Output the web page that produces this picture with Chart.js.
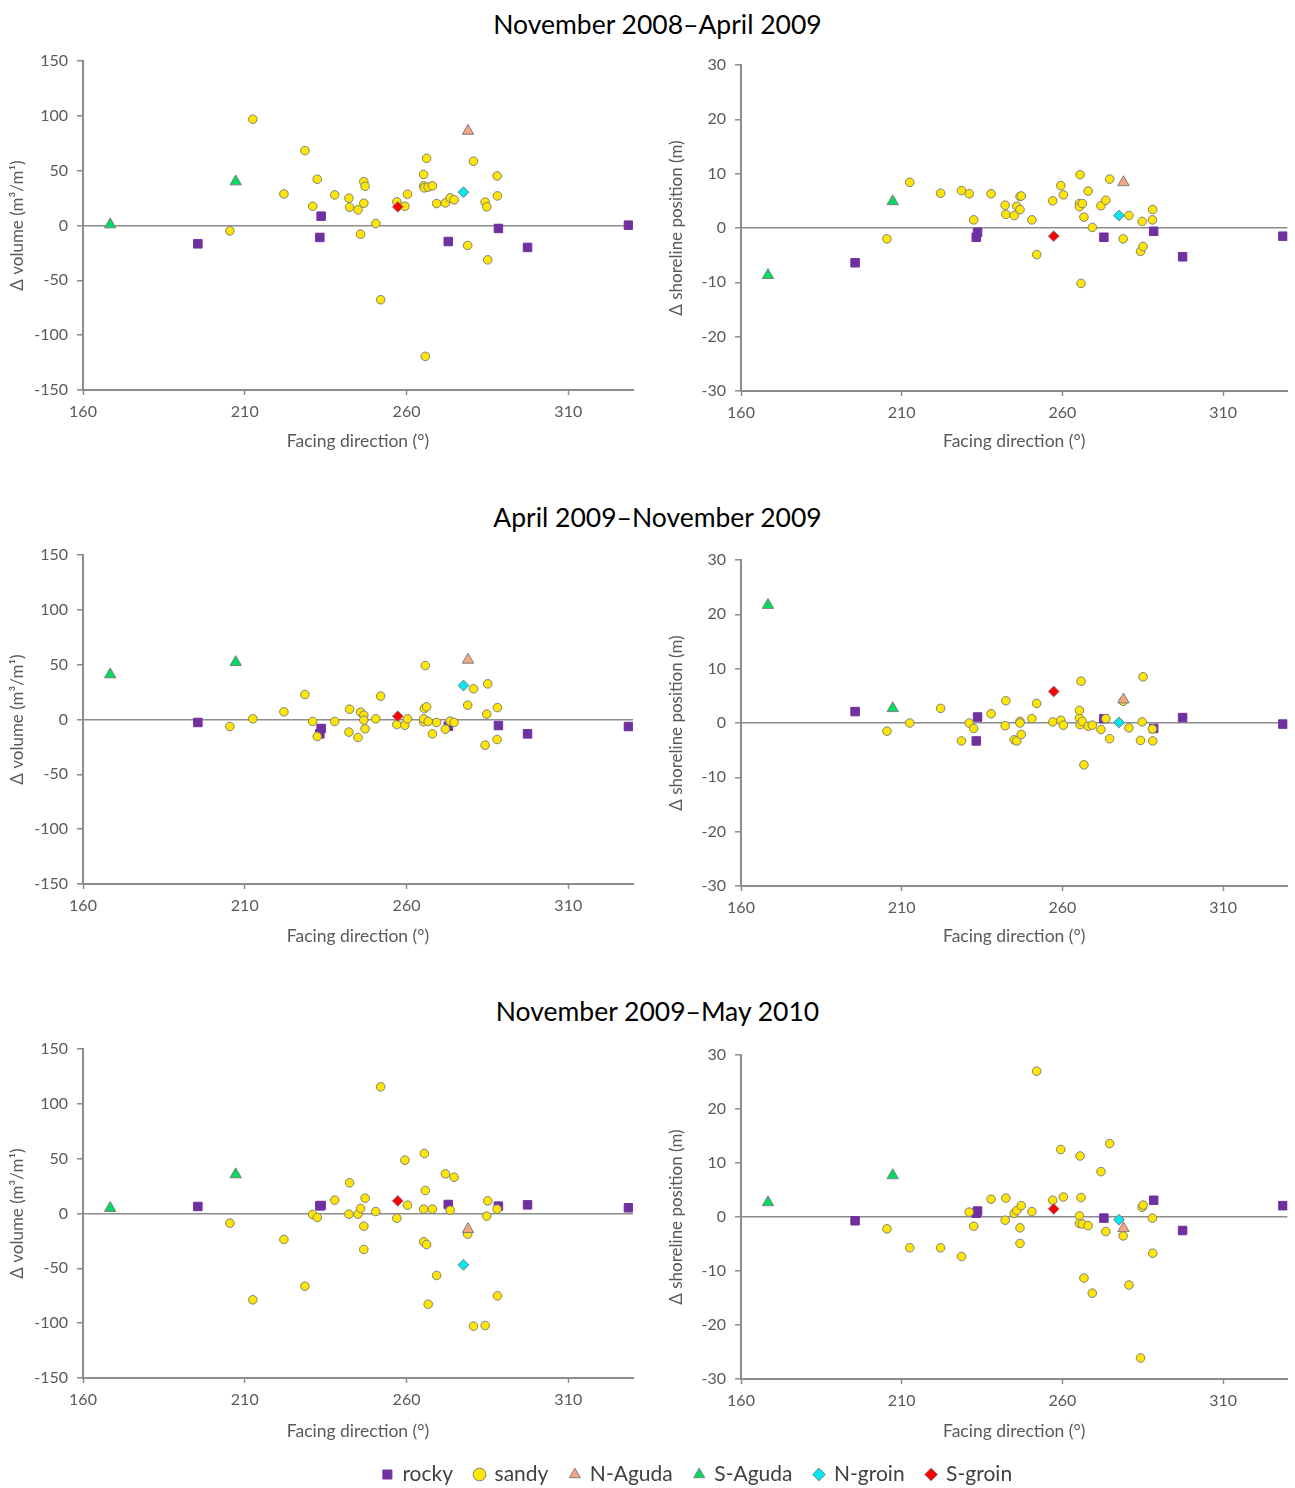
<!DOCTYPE html>
<html>
<head>
<meta charset="utf-8">
<script src="https://cdn.jsdelivr.net/npm/chart.js@4.4.0/dist/chart.umd.min.js"></script>
<style>
  html, body { margin: 0; background: #fff; overflow: hidden; }
  #page { position: relative; width: 1295px; height: 1488px; overflow: hidden; font-family: Lato, "Open Sans", sans-serif; }
  .period { position: absolute; left: 0; width: 1315px; text-align: center; font-size: 26.5px; line-height: 32px; color: #000; }
  canvas { position: absolute; }
</style>
</head>
<body>
<div id="page">
  <div class="period" style="top:8px" id="t0"></div>
  <div class="period" style="top:501px" id="t1"></div>
  <div class="period" style="top:995px" id="t2"></div>
  <canvas id="c1" width="650" height="420" style="left:0;top:40px"></canvas>
  <canvas id="c2" width="645" height="420" style="left:650px;top:40px"></canvas>
  <canvas id="c3" width="650" height="420" style="left:0;top:535px"></canvas>
  <canvas id="c4" width="645" height="420" style="left:650px;top:535px"></canvas>
  <canvas id="c5" width="650" height="420" style="left:0;top:1030px"></canvas>
  <canvas id="c6" width="645" height="420" style="left:650px;top:1030px"></canvas>
  <canvas id="legend" width="995" height="150" style="left:200px;top:1442px"></canvas>
</div>
<script>
const periods = ['November 2008–April 2009', 'April 2009–November 2009', 'November 2009–May 2010'];
const xTicks = [160, 210, 260, 310];
const volTicks = [-150, -100, -50, 0, 50, 100, 150];
const shoreTicks = [-30, -20, -10, 0, 10, 20, 30];

// facing direction (deg) of each monitored stretch
const rockyDir = [195.5, 233.2, 233.6, 272.9, 288.4, 297.4, 328.6];
const sandyDir = [205.4, 212.5, 222.1, 228.6, 231.0, 232.4, 237.8, 242.2, 242.4, 245.0,
  245.8, 246.8, 246.8, 247.2, 250.5, 252.0, 257.0, 259.5, 260.3, 265.3,
  265.3, 265.5, 265.8, 266.2, 266.7, 268.0, 269.3, 272.0, 273.5, 274.7,
  278.9, 280.7, 284.3, 284.8, 285.1, 288.0, 288.1];
const nAgudaDir = [279.0];
const sAgudaDir = [168.4, 207.2];
const nGroinDir = [277.6];
const sGroinDir = [257.3];

// Δ volume (m3/m1), one list per period
const rockyVol = [
  [-16.7, -10.9, 8.5, -14.6, -2.7, -20.0, 0.3],
  [-2.7, -13.1, -8.2, -6.1, -5.5, -13.1, -6.4],
  [6.4, 7.0, 7.3, 8.2, 6.7, 7.9, 5.2]
];
const sandyVol = [
  [-4.9, 96.9, 28.8, 68.3, 17.6, 42.2, 27.9, 24.9, 16.7, 14.3, -7.9, 40.1, 20.3, 35.8, 1.8, -67.7, 21.6, 17.6, 28.5,
   46.5, 36.1, 34.3, -119.3, 61.3, 35.0, 36.1, 20.0, 20.6, 25.2, 23.4, -18.2, 58.6, 21.3, 17.0, -31.3, 45.2, 27.0],
  [-6.4, 0.6, 7.0, 22.8, -1.8, -15.5, -1.8, -11.5, 9.4, -16.4, 6.7, 3.9, -0.6, -8.5, 0.6, 21.3, -4.6, -5.2, 0.6,
   -2.1, 0.6, 10.0, 49.2, 11.5, -1.8, -13.1, -2.7, -8.8, -1.5, -2.7, 13.1, 28.0, -23.4, 4.9, 32.5, -18.2, 10.9],
  [-8.8, -78.7, -23.7, -66.3, -0.9, -3.6, 12.2, -0.6, 28.0, -0.6, 4.6, -11.6, -32.8, 14.0, 1.8, 115.5, -4.3, 48.6, 7.6,
   4.0, -25.8, 54.7, 21.0, -28.3, -82.7, 4.0, -56.5, 36.2, 3.0, 33.1, -18.8, -102.7, -102.1, -2.4, 11.5, 4.0, -75.1]
];
const nAgudaVol = [[86.2], [54.4], [-14.3]];
const sAgudaVol = [[0.9, 40.1], [41.0, 52.2], [4.9, 35.6]];
const nGroinVol = [[30.4], [31.0], [-46.8]];
const sGroinVol = [[17.0], [3.0], [11.5]];

// Δ shoreline position (m), one list per period
const rockyShore = [
  [-6.4, -1.7, -0.8, -1.7, -0.6, -5.3, -1.5],
  [2.1, -3.3, 1.1, 0.8, -1.0, 1.0, -0.2],
  [-0.7, 0.7, 1.1, -0.2, 3.1, -2.5, 2.1]
];
const sandyShore = [
  [-2.0, 8.4, 6.4, 6.9, 6.3, 1.5, 6.3, 4.2, 2.5, 2.3, 4.0, 5.8, 3.4, 5.9, 1.5, -4.9, 5.0, 7.8, 6.1,
   4.5, 3.9, 9.8, -10.2, 4.5, 2.0, 6.8, 0.1, 4.1, 5.1, 9.0, -2.0, 2.3, -4.3, 1.2, -3.4, 1.5, 3.4],
  [-1.5, 0.0, 2.7, -3.3, 0.0, -1.0, 1.7, -0.5, 4.1, -3.1, -3.3, 0.3, 0.0, -2.1, 0.8, 3.6, 0.2, 0.5, -0.4,
   0.9, 2.3, -0.3, 7.7, 0.3, -7.7, -0.6, -0.4, -1.2, 0.8, -2.9, 4.0, -0.9, -3.2, 0.2, 8.5, -1.1, -3.3],
  [-2.2, -5.7, -5.7, -7.3, 0.9, -1.7, 3.3, -0.6, 3.5, 0.7, 1.2, -2.0, -4.9, 2.1, 1.0, 27.0, 3.1, 12.5, 3.7,
   0.2, -1.2, 11.3, 3.6, -1.3, -11.3, -1.6, -14.1, 8.4, -2.7, 13.6, -3.5, -12.6, -26.1, 1.8, 2.2, -0.2, -6.7]
];
const nAgudaShore = [[8.4], [4.3], [-2.1]];
const sAgudaShore = [[-8.7, 4.9], [21.7, 2.7], [2.7, 7.7]];
const nGroinShore = [[2.3], [0.1], [-0.5]];
const sGroinShore = [[-1.5], [5.8], [1.5]];

const axisGray = '#8c8c8c';
const labelGray = '#595959';
const markEdge = '#7f7f7f';

Chart.defaults.font.family = 'Lato, "Open Sans", sans-serif';

const series = [
  { label: 'rocky', dir: rockyDir, vol: rockyVol, shore: rockyShore, style: 'rect', radius: 6, bg: '#7030a0', edge: '#7030a0' },
  { label: 'sandy', dir: sandyDir, vol: sandyVol, shore: sandyShore, style: 'circle', radius: 4.3, bg: '#ffe600', edge: markEdge },
  { label: 'N-Aguda', dir: nAgudaDir, vol: nAgudaVol, shore: nAgudaShore, style: 'triangle', radius: 6.6, bg: '#f4a582', edge: markEdge },
  { label: 'S-Aguda', dir: sAgudaDir, vol: sAgudaVol, shore: sAgudaShore, style: 'triangle', radius: 6.6, bg: '#00dc5f', edge: markEdge },
  { label: 'N-groin', dir: nGroinDir, vol: nGroinVol, shore: nGroinShore, style: 'rectRot', radius: 5.4, bg: '#00e8f0', edge: markEdge },
  { label: 'S-groin', dir: sGroinDir, vol: sGroinVol, shore: sGroinShore, style: 'rectRot', radius: 5.4, bg: '#ff0000', edge: markEdge }
];

// canvas id, quantity, period, plot area inside the canvas [left, top, right, bottom]
const panels = [
  { id: 'c1', measure: 'vol', period: 0, area: [83, 21, 633, 350] },
  { id: 'c2', measure: 'shore', period: 0, area: [91, 25, 641, 351] },
  { id: 'c3', measure: 'vol', period: 1, area: [83, 20, 633, 349] },
  { id: 'c4', measure: 'shore', period: 1, area: [91, 25, 641, 351] },
  { id: 'c5', measure: 'vol', period: 2, area: [83, 19, 633, 348] },
  { id: 'c6', measure: 'shore', period: 2, area: [91, 25, 641, 349] }
];

periods.forEach((p, i) => { document.getElementById('t' + i).textContent = p; });

function points(xs, ys) {
  return xs.map((x, i) => ({ x: x, y: ys[i] }));
}

function drawPanel(p) {
  const canvas = document.getElementById(p.id);
  const [l, t, r, b] = p.area;
  const isVol = p.measure === 'vol';
  const yTicks = isVol ? volTicks : shoreTicks;

  const datasets = series.map((s, k) => ({
    label: s.label,
    data: points(s.dir, s[p.measure][p.period]),
    pointStyle: s.style,
    pointRadius: s.radius,
    backgroundColor: s.bg,
    borderColor: s.edge,
    borderWidth: 1,
    order: series.length - k
  }));

  new Chart(canvas, {
    type: 'scatter',
    data: { datasets: datasets },
    options: {
      responsive: false,
      animation: false,
      layout: { padding: { left: 0, top: t, right: canvas.width - r, bottom: 0 } },
      plugins: { legend: { display: false }, tooltip: { enabled: false } },
      scales: {
        x: {
          type: 'linear',
          min: 160,
          max: 330,
          afterFit: sc => { sc.height = canvas.height - b; },
          afterBuildTicks: sc => { sc.ticks = xTicks.map(v => ({ value: v })); },
          grid: { drawOnChartArea: false, tickLength: 5, tickColor: axisGray, tickWidth: 1.5 },
          border: { color: axisGray, width: 2 },
          ticks: { color: labelGray, font: { size: 16 }, padding: 7, maxRotation: 0 },
          title: { display: true, text: 'Facing direction (°)', color: labelGray, font: { size: 17.5 }, padding: { top: 0, bottom: 8 } }
        },
        y: {
          type: 'linear',
          min: yTicks[0],
          max: yTicks[yTicks.length - 1],
          afterFit: sc => { sc.width = l; },
          afterBuildTicks: sc => { sc.ticks = yTicks.map(v => ({ value: v })); },
          grid: {
            color: c => (c.tick && c.tick.value === 0 ? axisGray : 'rgba(0,0,0,0)'),
            lineWidth: 1.6,
            tickLength: 6,
            tickColor: axisGray,
            tickWidth: 1.5
          },
          border: { color: axisGray, width: 2 },
          ticks: { color: labelGray, font: { size: 16 }, padding: 9 },
          title: {
            display: true,
            text: isVol ? 'Δ volume (m³/m¹)' : 'Δ shoreline position (m)',
            color: labelGray,
            font: { size: 17 },
            padding: { top: isVol ? 7 : 16, bottom: 0 }
          }
        }
      }
    }
  });
}

panels.forEach(drawPanel);

// shared legend under the panels
new Chart(document.getElementById('legend'), {
  type: 'scatter',
  data: {
    datasets: series.map(s => ({
      label: s.label,
      data: [],
      pointStyle: s.style,
      pointRadius: s.radius,
      backgroundColor: s.bg,
      borderColor: s.edge,
      borderWidth: 1
    }))
  },
  options: {
    responsive: false,
    animation: false,
    scales: { x: { display: false }, y: { display: false } },
    plugins: {
      tooltip: { enabled: false },
      legend: {
        display: true,
        position: 'top',
        labels: { usePointStyle: true, boxWidth: 9, boxHeight: 9, padding: 22, color: '#404040', font: { size: 21 } }
      }
    }
  }
});
</script>
</body>
</html>
